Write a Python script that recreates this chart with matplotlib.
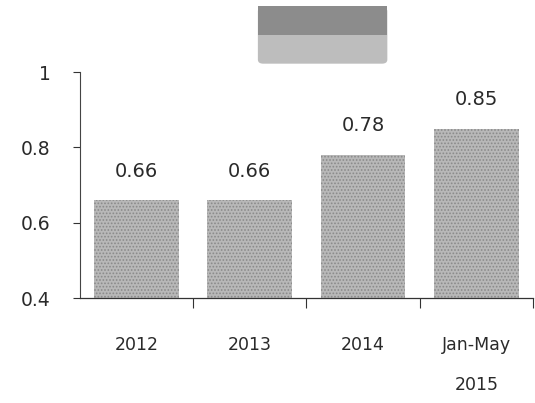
import matplotlib
matplotlib.use("Agg")
import matplotlib.pyplot as plt
from matplotlib.patches import Rectangle, FancyBboxPatch

categories = ["2012", "2013", "2014", "Jan-May\n2015"]
values = [0.66, 0.66, 0.78, 0.85]
value_labels = ["0.66", "0.66", "0.78", "0.85"]
yticks = [0.4, 0.6, 0.8, 1.0]
ytick_labels = ["0.4", "0.6", "0.8", "1"]

plt.rcParams['font.family'] = ['DejaVu Sans']
plt.rcParams['hatch.linewidth'] = 0.8
plt.rcParams['hatch.color'] = '#555555'

fig = plt.figure(figsize=(5.35, 4.03), dpi=100)
ax = fig.add_axes([0.1495, 0.2605, 0.8465, 0.5608])

x = list(range(len(categories)))
bars = ax.bar(x, values, width=0.75, bottom=0, color='#b8b8b8',
              edgecolor='#8a8a8a', linewidth=0.0, hatch='.....')

ax.set_ylim(0.4, 1.0)
ax.set_xlim(-0.5, len(categories) - 0.5)

ax.set_yticks(yticks)
ax.set_yticklabels(ytick_labels, fontsize=13.5, color='#2a2a2a')
ax.tick_params(axis='y', direction='out', length=5, width=0.8, pad=16, colors='#333333')
ax.tick_params(axis='y', labelcolor='#2a2a2a')

ax.set_xticks(x)
ax.set_xticklabels(categories, fontsize=12.5, color='#2a2a2a', linespacing=2.6, va='top')
ax.tick_params(axis='x', which='major', length=0, pad=27)
ax.set_xticks([i + 0.5 for i in x], minor=True)
ax.tick_params(axis='x', which='minor', direction='out', length=7, width=0.8, colors='#333333')

for s in ['top', 'right']:
    ax.spines[s].set_visible(False)
ax.spines['left'].set_color('#444444')
ax.spines['left'].set_linewidth(0.8)
ax.spines['left'].set_linestyle((0, (4, 1)))
ax.spines['bottom'].set_color('#333333')
ax.spines['bottom'].set_linewidth(0.9)

for xi, v, lab in zip(x, values, value_labels):
    ax.annotate(lab, (xi, v), xytext=(0, 14), textcoords='offset points',
                ha='center', va='bottom', fontsize=14, color='#2a2a2a')

# legend key (no text)
fig.patches.append(FancyBboxPatch((0.482, 0.842), 0.242, 0.140,
                                  boxstyle="round,pad=0,rounding_size=0.01",
                                  transform=fig.transFigure, facecolor='#bdbdbd',
                                  edgecolor='none', hatch='.....'))
fig.patches.append(Rectangle((0.482, 0.912), 0.242, 0.072,
                             transform=fig.transFigure, facecolor='#8c8c8c',
                             edgecolor='none', hatch='.....'))

fig.savefig("out.png", dpi=100)
